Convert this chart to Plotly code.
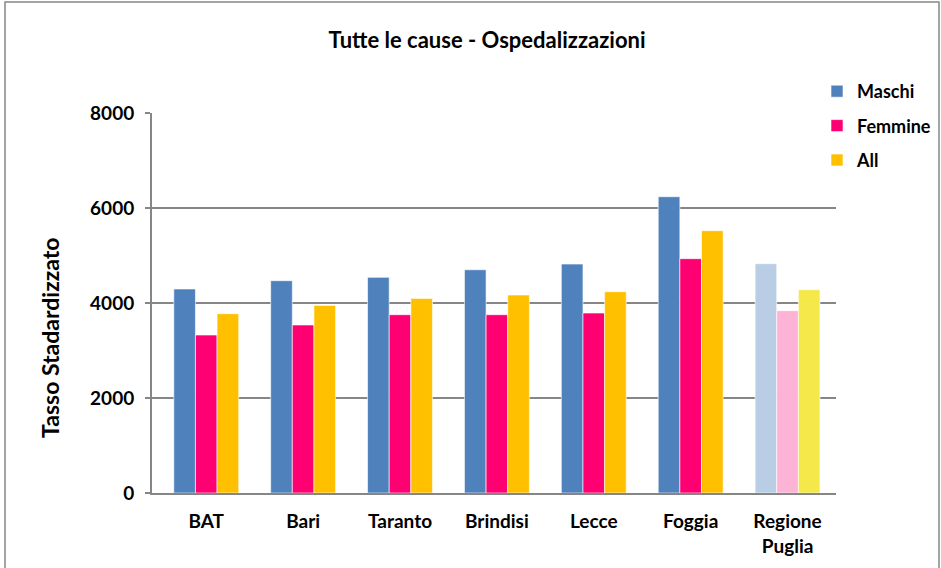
import plotly.graph_objects as go

categories = ["BAT", "Bari", "Taranto", "Brindisi", "Lecce", "Foggia", "Regione<br>Puglia"]
maschi = [4295, 4470, 4540, 4700, 4820, 6238, 4827]
femmine = [3326, 3537, 3754, 3754, 3789, 4933, 3838]
all_vals = [3775, 3950, 4097, 4168, 4238, 5522, 4280]
y_ticks = [0, 2000, 4000, 6000, 8000]

c_m, c_f, c_a = "#4F81BD", "#FF0073", "#FFC000"
c_m_l, c_f_l, c_a_l = "#B9CDE5", "#FDB3D6", "#F5E84A"

def colors(base, light):
    return [base] * (len(categories) - 1) + [light]

font = "Lato, Open Sans, sans-serif"
L, R, T, B = 152, 105, 113, 75
PW, PH = 941 - L - R, 568 - T - B

fig = go.Figure()
for name, vals, base, light in [("Maschi", maschi, c_m, c_m_l),
                                ("Femmine", femmine, c_f, c_f_l),
                                ("All", all_vals, c_a, c_a_l)]:
    fig.add_trace(go.Bar(name=f"<b>{name}</b>", x=categories, y=vals, legendgroup=name,
                         marker_color=colors(base, light),
                         marker_line=dict(color="rgba(255,255,255,0.6)", width=1)))

fig.update_layout(
    width=941, height=568,
    margin=dict(l=L, r=R, t=T, b=B, autoexpand=False, pad=0),
    paper_bgcolor="white", plot_bgcolor="white",
    barmode="group", bargap=0.33, bargroupgap=0,
    font=dict(family=font, size=19, color="black"),
    title=dict(text="<b>Tutte le cause - Ospedalizzazioni</b>", x=487 / 941, xanchor="center",
               y=1 - 40 / 568, yanchor="middle", font=dict(size=22, family=font)),
    legend=dict(x=(817 - L) / PW, y=(568 - B - 73) / PH, xanchor="left", yanchor="top",
                font=dict(size=18, family=font), itemwidth=30, tracegroupgap=8,
                bgcolor="rgba(0,0,0,0)"),
    showlegend=True,
)
fig.update_xaxes(showline=True, linecolor="#868686", linewidth=2, ticks="",
                 tickfont=dict(size=19, family=font), showgrid=False,
                 ticktext=[f"<b>{c}</b>" for c in categories], tickvals=categories,
                 range=[-0.56, len(categories) - 0.5],
                 ticklabelstandoff=10)
fig.update_yaxes(range=[0, 8000], tickvals=y_ticks, ticktext=[f"<b>{v}</b>" for v in y_ticks],
                 showline=True, linecolor="#868686", linewidth=2, ticks="outside",
                 ticklen=5, tickcolor="#868686", tickwidth=2, ticklabelstandoff=7,
                 showgrid=True, gridcolor="#868686", gridwidth=2,
                 tickfont=dict(size=19, family=font))

# y-axis title placed as in the reference (lower than plot centre)
fig.add_annotation(text="<b>Tasso Stadardizzato</b>", textangle=-90, showarrow=False,
                   xref="paper", yref="paper",
                   x=(50 - L) / PW, y=(568 - B - 338) / PH, xanchor="center", yanchor="middle",
                   font=dict(size=23, family=font, color="black"))

# outer chart border
fig.add_shape(type="rect", xref="paper", yref="paper",
              x0=(5 - L) / PW, x1=(939 - L) / PW, y0=-0.5, y1=(568 - B - 2) / PH,
              line=dict(color="#868686", width=1.5), fillcolor="rgba(0,0,0,0)", layer="below")

fig.write_html("out.html", config={"displayModeBar": False},
               post_script="document.body.style.margin='0';")
